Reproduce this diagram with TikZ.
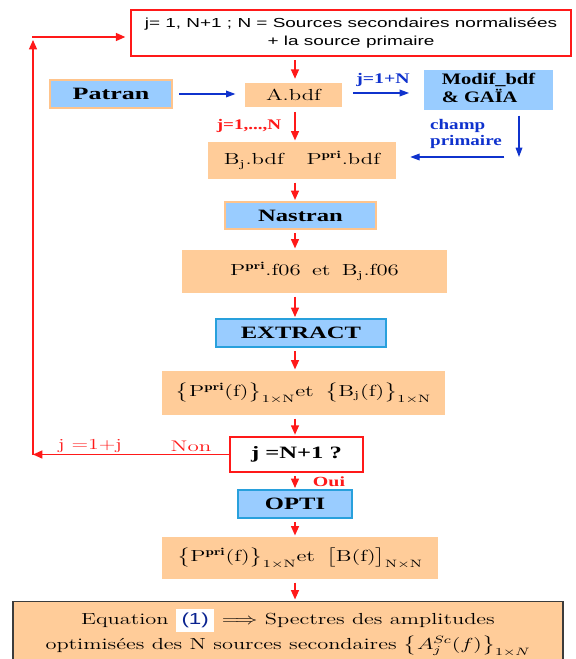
\documentclass[tikz,border=0pt]{standalone}
\usepackage{amsmath}
\usepackage{graphicx}
\usepackage{fontspec}
\usetikzlibrary{arrows.meta, positioning, calc}
\newfontfamily\arialfont{Liberation Sans}
\newfontfamily\timesfont{Liberation Serif}
\definecolor{peach}{RGB}{255, 204, 153}
\definecolor{peachline}{RGB}{255, 196, 140}
\definecolor{skyfill}{RGB}{153, 204, 255}
\definecolor{skyline}{RGB}{40, 160, 220}
\definecolor{flowred}{RGB}{255, 25, 25}
\definecolor{flowblue}{RGB}{15, 50, 205}
\definecolor{frameline}{RGB}{60, 60, 60}
% the source picture is wide: stretch the text the same way
\newcommand{\wide}[2][1.42]{\scalebox{#1}[1]{#2}}

\begin{document}
\begin{tikzpicture}[
    x=0.75pt, y=-0.75pt,
    databox/.style={fill=peach, inner sep=0pt, align=center, font=\fontsize{12}{15}\selectfont},
    toolbox/.style={fill=skyfill, inner sep=0pt, align=center, font=\timesfont\bfseries\fontsize{13}{15}\selectfont},
    testbox/.style={draw=flowred, fill=white, inner sep=0pt, align=center},
    redarrow/.style={draw=flowred, line width=1pt, -{Triangle[length=7pt, width=6pt]}, shorten <=2.5pt, shorten >=1pt},
    bluearrow/.style={draw=flowblue, line width=0.9pt, -{Triangle[length=7pt, width=5pt]}},
    redlabel/.style={text=flowred, inner sep=0pt, font=\fontsize{11.5}{13}\selectfont},
    bluelabel/.style={text=flowblue, inner sep=0pt, align=left, font=\timesfont\bfseries\fontsize{11}{12}\selectfont}
  ]
  \useasboundingbox (0,0) rectangle (575,659);

  % main column
  \node[testbox, line width=1.1pt, minimum width=330pt, minimum height=34.5pt, font=\arialfont\fontsize{9.8}{13}\selectfont] (top) at (351,33)
    {\wide[1.45]{\begin{tabular}{@{}c@{}}j= 1, N+1 ; N = Sources secondaires normalisées\\+ la source primaire\end{tabular}}};
  \node[toolbox, draw=peachline, line width=1.1pt, minimum width=91.5pt, minimum height=21pt] (patran) at (111,94) {\wide[1.5]{Patran}};
  \node[databox, minimum width=72.75pt, minimum height=18pt] (abdf) at (293.5,95) {\wide{A.bdf}};
  \node[toolbox, minimum width=96.75pt, minimum height=30pt, font=\timesfont\bfseries\fontsize{12}{13}\selectfont] (modif) at (488.5,90)
    {\wide[1.28]{\begin{tabular}{@{}l@{}}Modif\_bdf\\\& GAÏA\end{tabular}}};
  \node[databox, minimum width=141pt, minimum height=27.75pt] (bbdf) at (302,160.5)
    {\wide{B$_{\mathrm{j}}$.bdf\quad P$^{\mathbf{pri}}$.bdf}};
  \node[toolbox, draw=peachline, line width=1.1pt, minimum width=113.25pt, minimum height=20.25pt] (nastran) at (300.5,215.5) {\wide{Nastran}};
  \node[databox, minimum width=198.75pt, minimum height=32.25pt] (fsix) at (314.5,271.5)
    {\wide{P$^{\mathbf{pri}}$.f06\enspace et\enspace B$_{\mathrm{j}}$.f06}};
  \node[toolbox, draw=skyline, line width=1pt, minimum width=127.5pt, minimum height=21pt] (extract) at (301,333) {\wide{EXTRACT}};
  \node[databox, minimum width=212.25pt, minimum height=33pt] (sets) at (303.5,393)
    {\wide{$\bigl\{\mathrm{P}^{\mathbf{pri}}(\mathrm{f})\bigr\}_{1\times\mathrm{N}}$et\enspace$\bigl\{\mathrm{B}_{\mathrm{j}}(\mathrm{f})\bigr\}_{1\times\mathrm{N}}$}};
  \node[testbox, line width=1.5pt, minimum width=99.75pt, minimum height=26.25pt, font=\timesfont\bfseries\fontsize{13}{15}\selectfont] (test) at (296.5,454.5) {\wide{j =N+1 ?}};
  \node[toolbox, draw=skyline, line width=1pt, minimum width=85.5pt, minimum height=21pt] (opti) at (295,504) {\wide{OPTI}};
  \node[databox, minimum width=207pt, minimum height=31.5pt] (matr) at (300,558)
    {\wide{$\bigl\{\mathrm{P}^{\mathbf{pri}}(\mathrm{f})\bigr\}_{1\times\mathrm{N}}$et\enspace$\bigl[\mathrm{B}(\mathrm{f})\bigr]_{\mathrm{N}\times\mathrm{N}}$}};
  \node[databox, draw=frameline, line width=1.1pt, minimum width=412.5pt, minimum height=45.75pt, font=\fontsize{12}{18.5}\selectfont] (final) at (288,632)
    {\wide[1.4]{\begin{tabular}{@{}c@{}}Equation \colorbox{white}{\arialfont\color{flowblue!70!black}(1)} $\Longrightarrow$ Spectres des amplitudes\\optimisées des N sources secondaires $\bigl\{A_j^{Sc}(f)\bigr\}_{1\times N}$\end{tabular}}};

  % labels
  \node[bluelabel] (jlast) at (383,80) {\wide[1.35]{j=1+N}};
  \node[bluelabel] (champlbl) at (466,134.5) {\wide[1.3]{\begin{tabular}{@{}l@{}}champ\\primaire\end{tabular}}};
  \node[redlabel, font=\timesfont\bfseries\fontsize{11}{12}\selectfont] (jrange) at (249,126) {\wide[1.3]{j=1,...,N}};
  \node[redlabel] (jinc) at (90,446) {\wide{j =1+j}};
  \node[redlabel] (non) at (191,446) {\wide[1.5]{Non}};
  \node[redlabel, font=\timesfont\bfseries\fontsize{10.5}{12}\selectfont] (oui) at (329,482) {\wide{Oui}};

  % connectors
  \coordinate (axis) at (295,0);
  \coordinate (champ) at (519,157);
  \coordinate (loopbot) at (33,454.5);
  \coordinate (looptop) at (33,40);
  \coordinate (loopturn) at (32,37);

  \draw[redarrow, shorten >=3pt] (top.south -| axis) -- (abdf.north -| axis);
  \draw[redarrow, shorten <=3.5pt] (abdf.south -| axis) -- (bbdf.north -| axis);
  \draw[redarrow] (bbdf.south -| axis) -- (nastran.north -| axis);
  \draw[redarrow] (nastran.south -| axis) -- (fsix.north -| axis);
  \draw[redarrow] (fsix.south -| axis) -- (extract.north -| axis);
  \draw[redarrow] (extract.south -| axis) -- (sets.north -| axis);
  \draw[redarrow] (sets.south -| axis) -- (test.north -| axis);
  \draw[redarrow] (test.south -| axis) -- (opti.north -| axis);
  \draw[redarrow] (opti.south -| axis) -- (matr.north -| axis);
  \draw[redarrow] (matr.south -| axis) -- (final.north -| axis);

  \draw[redarrow, shorten <=0pt, shorten >=0pt] (test.west) -- (loopbot);
  \draw[redarrow, shorten <=0pt, shorten >=0pt] (loopbot) -- (looptop);
  \draw[redarrow, shorten <=0pt, shorten >=3.75pt] (loopturn) -- (loopturn -| top.west);

  \draw[bluearrow, shorten <=5pt, shorten >=7pt] (patran.east) -- (patran.east -| abdf.west);
  \draw[bluearrow, shorten <=8pt, shorten >=11pt] ([yshift=1.5pt]abdf.east) -- ([yshift=1.5pt]abdf.east -| modif.west);
  \draw[bluearrow, shorten <=4pt] (modif.south -| champ) -- (champ);
  \draw[bluearrow, shorten <=11pt, shorten >=10.5pt] (champ) -- (champ -| bbdf.east);
\end{tikzpicture}
\end{document}
